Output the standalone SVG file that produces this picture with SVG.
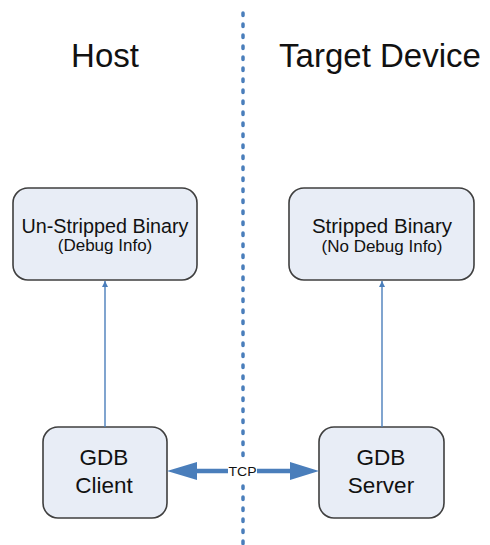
<svg xmlns="http://www.w3.org/2000/svg" width="490" height="545" viewBox="0 0 490 545">
<defs>
<style>
.box{fill:#e8edf6;stroke:#3f3f3f;stroke-width:1.6}
.t{font-family:"Liberation Sans",Arial,sans-serif;fill:#111;text-anchor:middle}
.h{font-size:33px}
.m{font-size:20.5px}
.s{font-size:17px}
.g{font-size:22.5px}
.thin{stroke:#4a7ebb;stroke-width:1.4;fill:none}
.thick{stroke:#4a7ebb;stroke-width:4.5;fill:none}
</style>
<marker id="ah" viewBox="0 0 10 10" refX="10" refY="5" markerWidth="6" markerHeight="7" markerUnits="userSpaceOnUse" orient="auto">
<path d="M0,0 L10,5 L0,10 Z" fill="#4a7ebb"/>
</marker>
</defs>
<rect width="490" height="545" fill="#fff"/>
<line x1="243" y1="13" x2="243" y2="545" stroke="#4a7ebb" stroke-width="3.5" stroke-linecap="round" stroke-dasharray="2.5 8.5"/>
<text class="t h" x="105" y="67">Host</text>
<text class="t h" x="380" y="67">Target Device</text>
<g id="unstripped">
<rect class="box" x="13" y="188" width="184" height="92" rx="15"/>
<text class="t m" x="105" y="233" textLength="167" lengthAdjust="spacingAndGlyphs">Un-Stripped Binary</text>
<text class="t s" x="105" y="251">(Debug Info)</text>
</g>
<g id="stripped">
<rect class="box" x="289" y="188" width="185" height="92" rx="15"/>
<text class="t m" x="382" y="233">Stripped Binary</text>
<text class="t s" x="382" y="252">(No Debug Info)</text>
</g>
<g id="client">
<rect class="box" x="43" y="427" width="124" height="91" rx="15"/>
<text class="t g" x="104" y="465">GDB</text>
<text class="t g" x="104" y="493">Client</text>
</g>
<g id="server">
<rect class="box" x="319" y="427" width="125" height="91" rx="15"/>
<text class="t g" x="381" y="465">GDB</text>
<text class="t g" x="381" y="493">Server</text>
</g>
<g id="connectors">
<line class="thin" x1="105" y1="427" x2="105" y2="281" marker-end="url(#ah)"/>
<line class="thin" x1="382" y1="427" x2="382" y2="281" marker-end="url(#ah)"/>
<line class="thick" x1="228" y1="471" x2="195" y2="471"/>
<path d="M197,462 L167,471 L197,480 Z" fill="#4a7ebb"/>
<line class="thick" x1="257" y1="471" x2="292" y2="471"/>
<path d="M290,462 L319,471 L290,480 Z" fill="#4a7ebb"/>
<rect x="228" y="462" width="29" height="19" fill="#fff"/>
<text class="t" x="242.5" y="476" font-size="12" textLength="28" lengthAdjust="spacingAndGlyphs">TCP</text>
</g>
</svg>
